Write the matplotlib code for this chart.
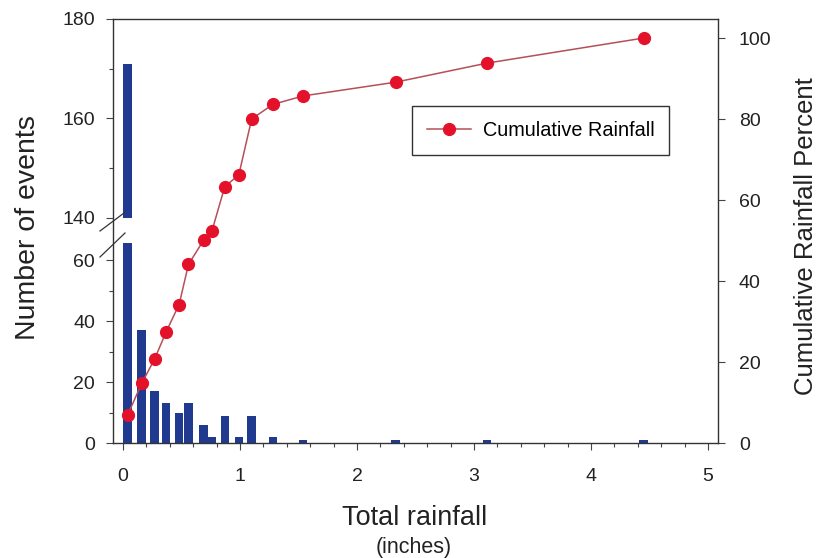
import matplotlib
matplotlib.use('Agg')
import matplotlib.pyplot as plt
from matplotlib.lines import Line2D
from matplotlib.ticker import MultipleLocator

plt.rcParams['font.family'] = ['Liberation Sans', 'DejaVu Sans']

# rainfall bins (inches), event counts and cumulative rainfall percent
rain_in = [0.04, 0.16, 0.27, 0.37, 0.48, 0.56, 0.69, 0.76, 0.87, 0.99,
           1.10, 1.28, 1.54, 2.33, 3.11, 4.45]
n_events = [171, 37, 17, 13, 10, 13, 6, 2, 9, 2, 9, 2, 1, 1, 1, 1]
cum_pct = [6.9, 14.7, 20.7, 27.5, 34.2, 44.1, 50.1, 52.3, 63.3, 66.2,
           80.0, 83.6, 85.7, 89.1, 93.8, 100.0]

W, H = 821, 558
BAR_C = '#1f3a8f'
TXT_C = '#222222'
XLIM = (-0.085, 5.085)


def rect(x0, y0, x1, y1):
    # pixel box (top-left origin) -> figure fraction
    return [x0 / W, 1 - y1 / H, (x1 - x0) / W, (y1 - y0) / H]


fig = plt.figure(figsize=(W / 100, H / 100), dpi=100)

ax_top = fig.add_axes(rect(113, 19, 718, 218))
ax_bot = fig.add_axes(rect(113, 243, 718, 443))
ax_r = fig.add_axes(rect(113, 19, 718, 443))

for ax, lo, hi in [(ax_top, 140, 180), (ax_bot, 0, 65.6)]:
    ax.bar(rain_in, n_events, width=0.072, color=BAR_C, zorder=2)
    ax.set_xlim(*XLIM)
    ax.set_ylim(lo, hi)
    ax.patch.set_visible(False)
    for s in ax.spines.values():
        s.set_visible(False)
    ax.set_xticks([])
    ax.yaxis.set_major_locator(MultipleLocator(20))
    ax.yaxis.set_minor_locator(MultipleLocator(10))
    ax.tick_params(axis='y', which='major', direction='out', length=5, width=0.8,
                   labelsize=14, pad=8, colors='#444444', labelcolor=TXT_C)
    ax.tick_params(axis='y', which='minor', direction='out', length=3, width=0.8,
                   colors='#444444')

# cumulative line + frame
ax_r.patch.set_visible(False)
ax_r.plot(rain_in, cum_pct, color='#b5505a', lw=1.1, marker='o', ms=8.5,
          mfc='#e3122a', mec='#e3122a', label='Cumulative Rainfall', zorder=3)
ax_r.set_xlim(*XLIM)
ax_r.set_ylim(0, 104.7)
ax_r.yaxis.tick_right()
ax_r.yaxis.set_major_locator(MultipleLocator(20))
ax_r.xaxis.set_major_locator(MultipleLocator(1))
ax_r.xaxis.set_minor_locator(MultipleLocator(0.2))
ax_r.tick_params(axis='y', direction='out', length=5, width=0.8, labelsize=14,
                 pad=10, colors='#444444', labelcolor=TXT_C)
ax_r.tick_params(axis='x', which='major', direction='out', length=5, width=0.8,
                 labelsize=14, pad=13, colors='#444444', labelcolor=TXT_C)
ax_r.tick_params(axis='x', which='minor', direction='out', length=3, width=0.8,
                 colors='#444444')
for s in ax_r.spines.values():
    s.set_color('#333333')
    s.set_linewidth(1.0)

leg = ax_r.legend(loc='upper left', bbox_to_anchor=(412 / W, 1 - 106 / H),
                  bbox_transform=fig.transFigure, borderaxespad=0, fontsize=14.3,
                  fancybox=False, edgecolor='#333333', framealpha=1,
                  handlelength=2.2, handletextpad=0.6, borderpad=0.75)
leg.get_frame().set_linewidth(1.0)

# break marks on the left axis
for (x0, y0, x1, y1) in [(100, 231, 124, 213), (100, 257, 125, 233)]:
    fig.add_artist(Line2D([x0 / W, x1 / W], [1 - y0 / H, 1 - y1 / H],
                          transform=fig.transFigure, color='#333333', lw=0.9))

fig.text(28 / W, 1 - 228 / H, 'Number of events', rotation=90, ha='center',
         va='center', fontsize=20.5, color=TXT_C)
fig.text(806 / W, 1 - 236 / H, 'Cumulative Rainfall Percent', rotation=90,
         ha='center', va='center', fontsize=18.5, color=TXT_C)
fig.text(415 / W, 1 - 518 / H, 'Total rainfall', ha='center', va='center',
         fontsize=19.5, color=TXT_C)
fig.text(414 / W, 1 - 548 / H, '(inches)', ha='center', va='center',
         fontsize=15.5, color=TXT_C)

fig.savefig('out.png', dpi=100)
